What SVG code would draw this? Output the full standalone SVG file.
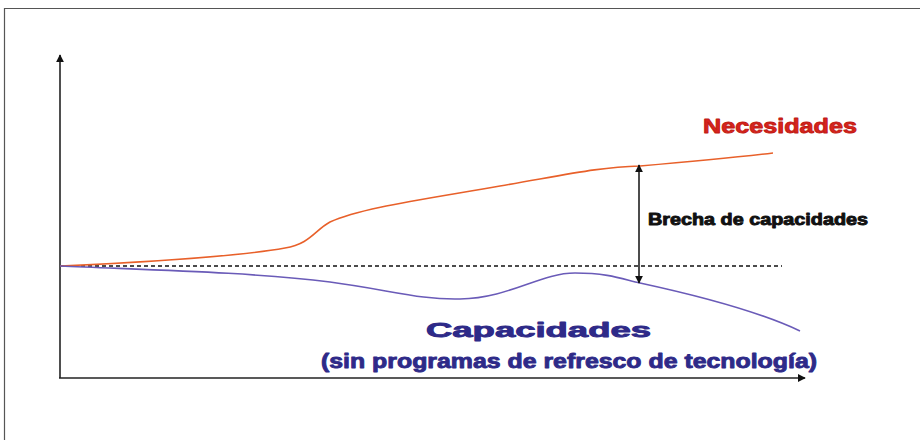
<svg xmlns="http://www.w3.org/2000/svg" width="920" height="440" viewBox="0 0 920 440">
<defs>
<style>
.axis{stroke:#222;stroke-width:1.6;fill:none}
.lbl{font-family:"Liberation Sans",Arial,sans-serif;font-weight:bold;stroke-width:0.9;stroke-linejoin:round}
</style>
<marker id="ah" viewBox="0 0 10 10" refX="9" refY="5" markerWidth="8" markerHeight="8" orient="auto-start-reverse" markerUnits="userSpaceOnUse"><path d="M0,0 L10,5 L0,10 z" fill="#111"/></marker>
</defs>
<rect x="0" y="0" width="920" height="440" fill="#fff"/>
<path d="M4.5,440 V8.5 H920" fill="none" stroke="#555" stroke-width="1.2"/>
<g id="axes">
<line class="axis" x1="60" y1="378" x2="60" y2="55" marker-end="url(#ah)"/>
<line class="axis" x1="59" y1="378" x2="805" y2="378" marker-end="url(#ah)"/>
</g>
<g id="connectors">
<line x1="60" y1="266" x2="782" y2="266" stroke="#111" stroke-width="1.5" stroke-dasharray="4,3"/>
<path id="necesidades-line" d="M60,266 C150,262 240,256 285,248 C310,244 315,230 330,222 C360,208 420,200 500,186 C570,174 600,167 640,166 C700,161 740,157 773,153" fill="none" stroke="#e8602a" stroke-width="1.6"/>
<path id="capacidades-line" d="M60,266 C150,270 250,272 330,282 C390,290 420,300 460,299 C510,298 540,273 575,273 C610,273 625,280 640,283 C700,296 760,312 800,331" fill="none" stroke="#6a5bb8" stroke-width="1.6"/>
<line x1="639" y1="165" x2="639" y2="283" stroke="#111" stroke-width="1.5" marker-start="url(#ah)" marker-end="url(#ah)"/>
</g>
<g id="label-necesidades">
<text class="lbl" x="703" y="133" font-size="21" fill="#d8241c" stroke="#c01a14" textLength="154" lengthAdjust="spacingAndGlyphs">Necesidades</text>
</g>
<g id="label-brecha">
<text class="lbl" x="648" y="225" font-size="16" fill="#111" stroke="#111" textLength="220" lengthAdjust="spacingAndGlyphs">Brecha de capacidades</text>
</g>
<g id="label-capacidades">
<text class="lbl" x="426" y="337" font-size="21" fill="#2e2a88" stroke="#2e2a88" textLength="225" lengthAdjust="spacingAndGlyphs">Capacidades</text>
<text class="lbl" x="321" y="368" font-size="21" fill="#2e2a88" stroke="#2e2a88" textLength="496" lengthAdjust="spacingAndGlyphs">(sin programas de refresco de tecnología)</text>
</g>
</svg>
